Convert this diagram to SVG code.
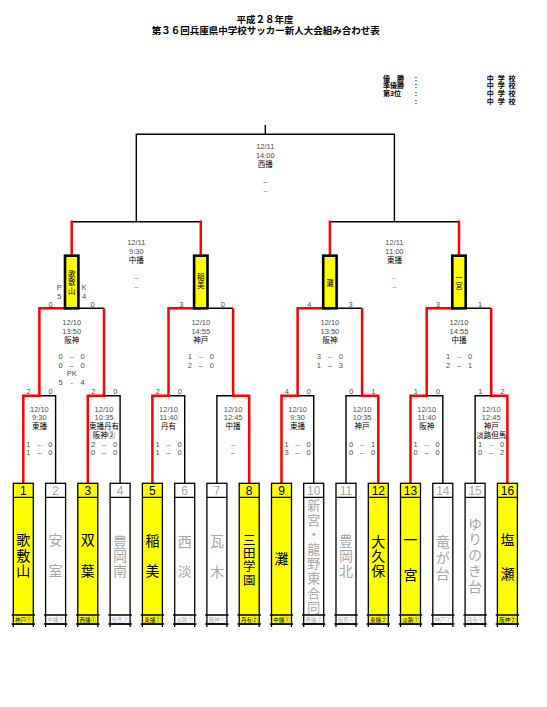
<svg xmlns="http://www.w3.org/2000/svg" width="547" height="707" viewBox="0 0 547 707">
<style>
text{font-family:"Liberation Sans","Noto Sans CJK JP",sans-serif}
.bk{fill:none;stroke:#000;stroke-width:1.4;stroke-linejoin:miter}
.rd{fill:none;stroke:#FF0000;stroke-width:2.5;stroke-linejoin:miter}
.win{fill:#FFFF00;stroke:#000;stroke-width:1.3}
.box{fill:#FFFFFF;stroke:#000;stroke-width:1.3}
.tl{fill:none;stroke:#000;stroke-width:1.3}
.num{font-size:12px;text-anchor:middle;fill:#000}
.nm{font-size:14px;fill:#000;font-family:"Noto Sans CJK JP",sans-serif;writing-mode:vertical-rl;text-anchor:start}
.nm13{font-size:13px}
.nm12{font-size:12.5px}
.lb{font-size:5.5px;text-anchor:middle;fill:#000}
.lose .num,.lose .nm,.lose .lb{fill:#A6A6A6}
.i{font-size:7.5px;text-anchor:middle;fill:#4D4D4D}
.v{font-size:7.5px;text-anchor:middle;fill:#000}
.db{font-size:7.5px;text-anchor:middle;fill:#4A8FD8}
.dp{font-size:7.5px;text-anchor:middle;fill:#7A3B8F}
.do{font-size:7.5px;text-anchor:middle;fill:#E3A050}
.sfb{fill:#FFFF00;stroke:#000;stroke-width:2.6}
.sfn{font-size:7.5px;fill:#000;font-family:"Noto Sans CJK JP",sans-serif;writing-mode:vertical-rl;text-anchor:start}
.ttl{font-size:9.5px;text-anchor:middle;font-weight:bold;fill:#000}
.lg{font-size:7px;font-weight:bold;fill:#000}
</style>

<g id="title">
<text class="ttl" x="265" y="22.5">平成２８年度</text>
<text class="ttl" x="265.8" y="33.5">第３６回兵庫県中学校サッカー新人大会組み合わせ表</text>
</g>

<g id="legend">
<text class="lg" x="383" y="80.8">優　勝</text>
<text class="lg" x="383" y="88.2">準優勝</text>
<text class="lg" x="383" y="95.8">第3位</text>
<text class="lg" x="414.8" y="80.8">:</text>
<text class="lg" x="414.8" y="88.2">:</text>
<text class="lg" x="414.8" y="95.8">:</text>
<text class="lg" x="414.8" y="103.5">:</text>
<text class="lg" x="486.7" y="80.8" letter-spacing="1">中 学 校</text>
<text class="lg" x="486.7" y="88.2" letter-spacing="1">中 学 校</text>
<text class="lg" x="486.7" y="95.8" letter-spacing="1">中 学 校</text>
<text class="lg" x="486.7" y="103.5" letter-spacing="1">中 学 校</text>
</g>

<g id="connectors">
<path class="bk" d="M136.3 221.7V134.3H394.4V221.7M265.3 125V134.3"/>
<path class="bk" d="M71.7 221.7H200.8M329.9 221.7H459"/>
<path class="bk" d="M71.7 308.3H104M200.8 308.3H233.1M329.9 308.3H362.1M459 308.3H491.2"/>
<path class="bk" d="M39.4 395.7H55.6V483.3M104 395.7H120.1V483.3M168.5 395.7H184.7V483.3M216.9 483.3V395.7H233.1M297.6 395.7H313.7V483.3M346 483.3V395.7H362.1M426.7 395.7H442.8V483.3M475.1 483.3V395.7H491.2"/>
<path class="rd" d="M71.7 255.7V220.5M200.8 255.7V220.5M329.9 255.7V220.5M459 255.7V220.5"/>
<path class="rd" d="M23.3 483.3V395.7H39.4V308.3H71.7"/>
<path class="rd" d="M87.8 483.3V395.7H104V308.3"/>
<path class="rd" d="M152.4 483.3V395.7H168.5V308.3H200.8"/>
<path class="rd" d="M249.2 483.3V395.7H233.1V308.3"/>
<path class="rd" d="M281.5 483.3V395.7H297.6V308.3H329.9"/>
<path class="rd" d="M378.3 483.3V395.7H362.1V308.3"/>
<path class="rd" d="M410.5 483.3V395.7H426.7V308.3H459"/>
<path class="rd" d="M507.4 483.3V395.7H491.2V308.3"/>
</g>

<g id="final" transform="translate(265.3 0)">
<text class="i" y="149.4">12/11</text>
<text class="i" y="158.4">14:00</text>
<text class="v" y="167.4">西播</text>
<text class="dp" y="184">–</text>
<text class="db" y="193">–</text>
</g>

<g id="sf1" transform="translate(136.3 0)">
<text class="i" y="245.4">12/11</text>
<text class="i" y="254.4">9:30</text>
<text class="v" y="263.4">中播</text>
<text class="db" y="280">–</text>
<text class="db" y="289">–</text>
</g>
<g id="sf2" transform="translate(394.4 0)">
<text class="i" y="245.4">12/11</text>
<text class="i" y="254.4">11:00</text>
<text class="v" y="263.4">東播</text>
<text class="do" y="280">–</text>
<text class="db" y="289">–</text>
</g>

<g id="semi-utashikiyama" transform="translate(71.7 0)">
<rect class="sfb" x="-6.7" y="255.7" width="13.4" height="52.6"/>
<text class="sfn" x="0" y="270.5" letter-spacing="0.85">歌敷山</text>
<text class="i" x="-21" y="306.7">0</text>
<text class="i" x="21" y="306.7">0</text>
<text class="i" x="-12.4" y="289.7">P</text>
<text class="i" x="-12.4" y="298.7">5</text>
<text class="i" x="12.3" y="289.7">K</text>
<text class="i" x="12.3" y="298.7">4</text>
</g>
<g id="semi-inami" transform="translate(200.8 0)">
<rect class="sfb" x="-6.7" y="255.7" width="13.4" height="52.6"/>
<text class="sfn" x="0" y="273" letter-spacing="0.8">稲美</text>
<text class="i" x="-19.5" y="306.7">3</text>
<text class="i" x="22" y="306.7">0</text>
</g>
<g id="semi-nada" transform="translate(329.9 0)">
<rect class="sfb" x="-6.7" y="255.7" width="13.4" height="52.6"/>
<text class="sfn" x="0" y="279">灘</text>
<text class="i" x="-20.6" y="306.7">4</text>
<text class="i" x="20.8" y="306.7">3</text>
</g>
<g id="semi-ichinomiya" transform="translate(459 0)">
<rect class="sfb" x="-6.7" y="255.7" width="13.4" height="52.6"/>
<text class="sfn" x="0" y="274.5">一宮</text>
<text class="i" x="-21.3" y="306.7">3</text>
<text class="i" x="21" y="306.7">1</text>
</g>

<g id="qf1" transform="translate(71.7 0)">
<text class="i" y="325">12/10</text>
<text class="i" y="333.7">13:50</text>
<text class="v" y="342.7">阪神</text>
<text class="i" x="-11" y="358.7">0</text><text class="db" y="358.7">–</text><text class="i" x="11" y="358.7">0</text>
<text class="i" x="-11" y="367.7">0</text><text class="dp" y="367.7">–</text><text class="i" x="11" y="367.7">0</text>
<text class="i" y="376">PK</text>
<text class="i" x="-11" y="385.4">5</text><text class="i" y="385.4">-</text><text class="i" x="11" y="385.4">4</text>
</g>
<g id="qf2" transform="translate(200.8 0)">
<text class="i" y="325">12/10</text>
<text class="i" y="333.7">14:55</text>
<text class="v" y="342.7">神戸</text>
<text class="i" x="-11" y="358.7">1</text><text class="db" y="358.7">–</text><text class="i" x="11" y="358.7">0</text>
<text class="i" x="-11" y="367.7">2</text><text class="dp" y="367.7">–</text><text class="i" x="11" y="367.7">0</text>
</g>
<g id="qf3" transform="translate(329.9 0)">
<text class="i" y="325">12/10</text>
<text class="i" y="333.7">13:50</text>
<text class="v" y="342.7">阪神</text>
<text class="i" x="-11" y="358.7">3</text><text class="db" y="358.7">–</text><text class="i" x="11" y="358.7">0</text>
<text class="i" x="-11" y="367.7">1</text><text class="dp" y="367.7">–</text><text class="i" x="11" y="367.7">3</text>
</g>
<g id="qf4" transform="translate(459 0)">
<text class="i" y="325">12/10</text>
<text class="i" y="333.7">14:55</text>
<text class="v" y="342.7">中播</text>
<text class="i" x="-11" y="358.7">1</text><text class="db" y="358.7">–</text><text class="i" x="11" y="358.7">0</text>
<text class="i" x="-11" y="367.7">2</text><text class="dp" y="367.7">–</text><text class="i" x="11" y="367.7">1</text>
</g>

<g id="r1m1" transform="translate(39.4 0)">
<text class="i" x="-10.8" y="393.7">2</text><text class="i" x="11.3" y="393.7">0</text>
<text class="i" y="411.7">12/10</text>
<text class="i" y="420">9:30</text>
<text class="v" y="429.4">東播</text>
<text class="i" x="-11" y="446.7">1</text><text class="db" y="446.7">–</text><text class="i" x="11" y="446.7">0</text>
<text class="i" x="-11" y="455.4">1</text><text class="dp" y="455.4">–</text><text class="i" x="11" y="455.4">0</text>
</g>
<g id="r1m2" transform="translate(104 0)">
<text class="i" x="-10.8" y="393.7">2</text><text class="i" x="11.3" y="393.7">0</text>
<text class="i" y="411.7">12/10</text>
<text class="i" y="420">10:35</text>
<text class="v" y="429.4">東播丹有</text>
<text class="v" y="438.4">阪神②</text>
<text class="i" x="-11" y="446.7">2</text><text class="db" y="446.7">–</text><text class="i" x="11" y="446.7">0</text>
<text class="i" x="-11" y="455.4">0</text><text class="dp" y="455.4">–</text><text class="i" x="11" y="455.4">0</text>
</g>
<g id="r1m3" transform="translate(168.5 0)">
<text class="i" x="-10.8" y="393.7">2</text><text class="i" x="11.3" y="393.7">0</text>
<text class="i" y="411.7">12/10</text>
<text class="i" y="420">11:40</text>
<text class="v" y="429.4">丹有</text>
<text class="i" x="-11" y="446.7">1</text><text class="db" y="446.7">–</text><text class="i" x="11" y="446.7">0</text>
<text class="i" x="-11" y="455.4">1</text><text class="dp" y="455.4">–</text><text class="i" x="11" y="455.4">0</text>
</g>
<g id="r1m4" transform="translate(233.1 0)">
<text class="i" y="411.7">12/10</text>
<text class="i" y="420">12:45</text>
<text class="v" y="429.4">中播</text>
<text class="db" y="446.7">–</text>
<text class="dp" y="455.4">–</text>
</g>
<g id="r1m5" transform="translate(297.6 0)">
<text class="i" x="-10.8" y="393.7">4</text><text class="i" x="11.3" y="393.7">0</text>
<text class="i" y="411.7">12/10</text>
<text class="i" y="420">9:30</text>
<text class="v" y="429.4">東播</text>
<text class="i" x="-11" y="446.7">1</text><text class="db" y="446.7">–</text><text class="i" x="11" y="446.7">0</text>
<text class="i" x="-11" y="455.4">3</text><text class="dp" y="455.4">–</text><text class="i" x="11" y="455.4">0</text>
</g>
<g id="r1m6" transform="translate(362.1 0)">
<text class="i" x="-10.8" y="393.7">0</text><text class="i" x="11.3" y="393.7">1</text>
<text class="i" y="411.7">12/10</text>
<text class="i" y="420">10:35</text>
<text class="v" y="429.4">神戸</text>
<text class="i" x="-11" y="446.7">0</text><text class="db" y="446.7">–</text><text class="i" x="11" y="446.7">1</text>
<text class="i" x="-11" y="455.4">0</text><text class="dp" y="455.4">–</text><text class="i" x="11" y="455.4">0</text>
</g>
<g id="r1m7" transform="translate(426.7 0)">
<text class="i" x="-10.8" y="393.7">1</text><text class="i" x="11.3" y="393.7">0</text>
<text class="i" y="411.7">12/10</text>
<text class="i" y="420">11:40</text>
<text class="v" y="429.4">阪神</text>
<text class="i" x="-11" y="446.7">1</text><text class="db" y="446.7">–</text><text class="i" x="11" y="446.7">0</text>
<text class="i" x="-11" y="455.4">0</text><text class="dp" y="455.4">–</text><text class="i" x="11" y="455.4">0</text>
</g>
<g id="r1m8" transform="translate(491.2 0)">
<text class="i" x="-10.8" y="393.7">1</text><text class="i" x="11.3" y="393.7">2</text>
<text class="i" y="411.7">12/10</text>
<text class="i" y="420">12:45</text>
<text class="v" y="429.4">神戸</text>
<text class="v" y="438.4">淡路但馬</text>
<text class="i" x="-11" y="446.7">1</text><text class="db" y="446.7">–</text><text class="i" x="11" y="446.7">0</text>
<text class="i" x="-11" y="455.4">0</text><text class="dp" y="455.4">–</text><text class="i" x="11" y="455.4">2</text>
</g>

<g id="team1" transform="translate(23.3 0)">
<rect class="win" x="-10" y="483.3" width="20" height="140.7"/>
<path class="tl" d="M-10 497.3H10M-11.7 615H11.7M-11.7 624H11.7M-10 624V627M10 624V627"/>
<text class="num" y="494.6">1</text>
<text class="nm" x="0" y="533" letter-spacing="1.35">歌敷山</text>
<text class="lb" y="621.5">神戸①</text>
</g>
<g id="team2" class="lose" transform="translate(55.6 0)">
<rect class="box" x="-10" y="483.3" width="20" height="140.7"/>
<path class="tl" d="M-10 497.3H10M-11.7 615H11.7M-11.7 624H11.7M-10 624V627M10 624V627"/>
<text class="num" y="494.6">2</text>
<text class="nm" x="0" y="533" letter-spacing="16.7">安室</text>
<text class="lb" y="621.5">中播②</text>
</g>
<g id="team3" transform="translate(87.8 0)">
<rect class="win" x="-10" y="483.3" width="20" height="140.7"/>
<path class="tl" d="M-10 497.3H10M-11.7 615H11.7M-11.7 624H11.7M-10 624V627M10 624V627"/>
<text class="num" y="494.6">3</text>
<text class="nm" x="0" y="533" letter-spacing="16.7">双葉</text>
<text class="lb" y="621.5">西播①</text>
</g>
<g id="team4" class="lose" transform="translate(120.1 0)">
<rect class="box" x="-10" y="483.3" width="20" height="140.7"/>
<path class="tl" d="M-10 497.3H10M-11.7 615H11.7M-11.7 624H11.7M-10 624V627M10 624V627"/>
<text class="num" y="494.6">4</text>
<text class="nm" x="0" y="534.3" letter-spacing="0.7">豊岡南</text>
<text class="lb" y="621.5">但馬②</text>
</g>
<g id="team5" transform="translate(152.4 0)">
<rect class="win" x="-10" y="483.3" width="20" height="140.7"/>
<path class="tl" d="M-10 497.3H10M-11.7 615H11.7M-11.7 624H11.7M-10 624V627M10 624V627"/>
<text class="num" y="494.6">5</text>
<text class="nm" x="0" y="534" letter-spacing="15.7">稲美</text>
<text class="lb" y="621.5">東播①</text>
</g>
<g id="team6" class="lose" transform="translate(184.7 0)">
<rect class="box" x="-10" y="483.3" width="20" height="140.7"/>
<path class="tl" d="M-10 497.3H10M-11.7 615H11.7M-11.7 624H11.7M-10 624V627M10 624V627"/>
<text class="num" y="494.6">6</text>
<text class="nm" x="0" y="534.3" letter-spacing="15.4">西淡</text>
<text class="lb" y="621.5">淡路②</text>
</g>
<g id="team7" class="lose" transform="translate(216.9 0)">
<rect class="box" x="-10" y="483.3" width="20" height="140.7"/>
<path class="tl" d="M-10 497.3H10M-11.7 615H11.7M-11.7 624H11.7M-10 624V627M10 624V627"/>
<text class="num" y="494.6">7</text>
<text class="nm" x="0" y="534" letter-spacing="16.5">瓦木</text>
<text class="lb" y="621.5">阪神①</text>
</g>
<g id="team8" transform="translate(249.2 0)">
<rect class="win" x="-10" y="483.3" width="20" height="140.7"/>
<path class="tl" d="M-10 497.3H10M-11.7 615H11.7M-11.7 624H11.7M-10 624V627M10 624V627"/>
<text class="num" y="494.6">8</text>
<text class="nm nm12" x="0" y="533.75" letter-spacing="0.83">三田学園</text>
<text class="lb" y="621.5">丹有②</text>
</g>
<g id="team9" transform="translate(281.5 0)">
<rect class="win" x="-10" y="483.3" width="20" height="140.7"/>
<path class="tl" d="M-10 497.3H10M-11.7 615H11.7M-11.7 624H11.7M-10 624V627M10 624V627"/>
<text class="num" y="494.6">9</text>
<text class="nm" x="0" y="551.3">灘</text>
<text class="lb" y="621.5">中播①</text>
</g>
<g id="team10" class="lose" transform="translate(313.7 0)">
<rect class="box" x="-10" y="483.3" width="20" height="140.7"/>
<path class="tl" d="M-10 497.3H10M-11.7 615H11.7M-11.7 624H11.7M-10 624V627M10 624V627"/>
<text class="num" y="494.6">10</text>
<text class="nm nm13" x="0" y="498.5" letter-spacing="1.6">新宮・龍野東合同</text>
<text class="lb" y="621.5">西播②</text>
</g>
<g id="team11" class="lose" transform="translate(346 0)">
<rect class="box" x="-10" y="483.3" width="20" height="140.7"/>
<path class="tl" d="M-10 497.3H10M-11.7 615H11.7M-11.7 624H11.7M-10 624V627M10 624V627"/>
<text class="num" y="494.6">11</text>
<text class="nm" x="0" y="534" letter-spacing="0.85">豊岡北</text>
<text class="lb" y="621.5">但馬①</text>
</g>
<g id="team12" transform="translate(378.3 0)">
<rect class="win" x="-10" y="483.3" width="20" height="140.7"/>
<path class="tl" d="M-10 497.3H10M-11.7 615H11.7M-11.7 624H11.7M-10 624V627M10 624V627"/>
<text class="num" y="494.6">12</text>
<text class="nm" x="0" y="534.5" letter-spacing="0.6">大久保</text>
<text class="lb" y="621.5">東播②</text>
</g>
<g id="team13" transform="translate(410.5 0)">
<rect class="win" x="-10" y="483.3" width="20" height="140.7"/>
<path class="tl" d="M-10 497.3H10M-11.7 615H11.7M-11.7 624H11.7M-10 624V627M10 624V627"/>
<text class="num" y="494.6">13</text>
<text class="nm" x="0" y="533" letter-spacing="21">一宮</text>
<text class="lb" y="621.5">淡路①</text>
</g>
<g id="team14" class="lose" transform="translate(442.8 0)">
<rect class="box" x="-10" y="483.3" width="20" height="140.7"/>
<path class="tl" d="M-10 497.3H10M-11.7 615H11.7M-11.7 624H11.7M-10 624V627M10 624V627"/>
<text class="num" y="494.6">14</text>
<text class="nm" x="0" y="534.7" letter-spacing="2.15">竜が台</text>
<text class="lb" y="621.5">神戸②</text>
</g>
<g id="team15" class="lose" transform="translate(475.1 0)">
<rect class="box" x="-10" y="483.3" width="20" height="140.7"/>
<path class="tl" d="M-10 497.3H10M-11.7 615H11.7M-11.7 624H11.7M-10 624V627M10 624V627"/>
<text class="num" y="494.6">15</text>
<text class="nm" x="0" y="516.3" letter-spacing="1.8">ゆりのき台</text>
<text class="lb" y="621.5">丹有①</text>
</g>
<g id="team16" transform="translate(507.4 0)">
<rect class="win" x="-10" y="483.3" width="20" height="140.7"/>
<path class="tl" d="M-10 497.3H10M-11.7 615H11.7M-11.7 624H11.7M-10 624V627M10 624V627"/>
<text class="num" y="494.6">16</text>
<text class="nm" x="0" y="532.3" letter-spacing="20.7">塩瀬</text>
<text class="lb" y="621.5">阪神②</text>
</g>
</svg>
